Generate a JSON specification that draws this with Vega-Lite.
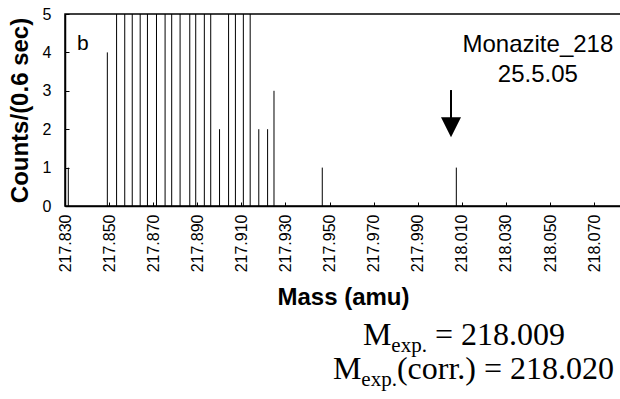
{
  "$schema": "https://vega.github.io/schema/vega-lite/v6.json",
  "autosize": {"type": "none"},
  "padding": {"left": 65, "top": 14, "right": 0, "bottom": 193},
  "width": 556,
  "height": 192,
  "background": "white",
  "config": {
    "font": "Liberation Sans",
    "view": {"stroke": "black", "strokeWidth": 1.5},
    "axis": {
      "labelOverlap": false,
      "labelFlush": false,
      "labelColor": "black",
      "labelFontSize": 16,
      "tickColor": "black",
      "tickWidth": 1,
      "domainColor": "black",
      "domainWidth": 1.5,
      "grid": false,
      "titleFontSize": 24,
      "titleFontWeight": "bold",
      "titleColor": "black"
    },
    "axisX": {"labelAngle": 270, "labelPadding": 12, "titlePadding": 14, "tickSize": -4},
    "axisY": {"labelPadding": 18, "titlePadding": 10, "tickSize": -4}
  },
  "datasets": {
    "peaks": [
      {"mass": 217.8315, "count": 1},
      {"mass": 217.8492, "count": 4},
      {"mass": 217.8534, "count": 5},
      {"mass": 217.8571, "count": 5},
      {"mass": 217.8605, "count": 5},
      {"mass": 217.8641, "count": 5},
      {"mass": 217.8674, "count": 5},
      {"mass": 217.8715, "count": 5},
      {"mass": 217.8754, "count": 5},
      {"mass": 217.8784, "count": 5},
      {"mass": 217.8822, "count": 5},
      {"mass": 217.8866, "count": 5},
      {"mass": 217.8893, "count": 5},
      {"mass": 217.8932, "count": 5},
      {"mass": 217.8961, "count": 5},
      {"mass": 217.9001, "count": 2},
      {"mass": 217.9042, "count": 5},
      {"mass": 217.9073, "count": 5},
      {"mass": 217.9109, "count": 5},
      {"mass": 217.914, "count": 5},
      {"mass": 217.9179, "count": 2},
      {"mass": 217.9219, "count": 2},
      {"mass": 217.9248, "count": 3},
      {"mass": 217.9467, "count": 1},
      {"mass": 218.0075, "count": 1}
    ],
    "arrow": [
      {"mass": 218.0051, "count": 3.02, "count2": 2.29}
    ],
    "head": [
      {"mass": 218.0051, "count": 2.05}
    ],
    "notes": [
      {"group": "panel", "mass": 217.8354, "count": 4.06, "label": "b"},
      {"group": "sample", "mass": 218.0445, "count": 4.0, "label": "Monazite_218"},
      {"group": "sample", "mass": 218.0445, "count": 3.24, "label": "25.5.05"},
      {"group": "main", "mass": 217.96515, "count": -3.62, "label": "M"},
      {"group": "sub", "mass": 217.97803, "count": -3.79, "label": "exp."},
      {"group": "main", "mass": 217.9978, "count": -3.62, "label": "= 218.009"},
      {"group": "main", "mass": 217.95154, "count": -4.51, "label": "M"},
      {"group": "sub", "mass": 217.96442, "count": -4.68, "label": "exp."},
      {"group": "main", "mass": 217.98057, "count": -4.51, "label": "(corr.) = 218.020"}
    ]
  },
  "layer": [
    {
      "data": {"name": "peaks"},
      "mark": {"type": "rule", "color": "black", "strokeWidth": 1},
      "encoding": {
        "x": {
          "field": "mass", "type": "quantitative",
          "scale": {"domain": [217.83, 218.0822], "nice": false, "zero": false},
          "axis": {
            "title": "Mass (amu)",
            "values": [217.83, 217.835, 217.84, 217.845, 217.85, 217.855, 217.86, 217.865, 217.87, 217.875, 217.88, 217.885, 217.89, 217.895, 217.9, 217.905, 217.91, 217.915, 217.92, 217.925, 217.93, 217.935, 217.94, 217.945, 217.95, 217.955, 217.96, 217.965, 217.97, 217.975, 217.98, 217.985, 217.99, 217.995, 218, 218.005, 218.01, 218.015, 218.02, 218.025, 218.03, 218.035, 218.04, 218.045, 218.05, 218.055, 218.06, 218.065, 218.07, 218.075, 218.08],
            "labelExpr": "round((datum.value - 217.83) * 200) % 4 == 0 ? format(datum.value, '.3f') : ''"
          }
        },
        "y": {
          "field": "count", "type": "quantitative",
          "scale": {"domain": [0, 5], "nice": false},
          "axis": {
            "title": "Counts/(0.6 sec)",
            "tickCount": 6,
            "labelOverlap": false,
            "labelBound": false,
            "labelSeparation": 0
          }
        },
        "y2": {"datum": 0}
      }
    },
    {
      "data": {"name": "arrow"},
      "mark": {"type": "rule", "color": "black", "strokeWidth": 2},
      "encoding": {
        "x": {"field": "mass", "type": "quantitative"},
        "y": {"field": "count", "type": "quantitative"},
        "y2": {"field": "count2"}
      }
    },
    {
      "data": {"name": "head"},
      "mark": {"type": "point", "shape": "M-1,-1L1,-1L0,1Z", "size": 400, "filled": true, "color": "black", "opacity": 1},
      "encoding": {
        "x": {"field": "mass", "type": "quantitative"},
        "y": {"field": "count", "type": "quantitative"}
      }
    },
    {
      "data": {"name": "notes"},
      "transform": [{"filter": "datum.group == 'panel'"}],
      "mark": {"type": "text", "font": "Liberation Sans", "fontSize": 21, "align": "left", "baseline": "alphabetic", "color": "black"},
      "encoding": {
        "x": {"field": "mass", "type": "quantitative"},
        "y": {"field": "count", "type": "quantitative"},
        "text": {"field": "label"}
      }
    },
    {
      "data": {"name": "notes"},
      "transform": [{"filter": "datum.group == 'sample'"}],
      "mark": {"type": "text", "font": "Liberation Sans", "fontSize": 24, "align": "center", "baseline": "alphabetic", "color": "black"},
      "encoding": {
        "x": {"field": "mass", "type": "quantitative"},
        "y": {"field": "count", "type": "quantitative"},
        "text": {"field": "label"}
      }
    },
    {
      "data": {"name": "notes"},
      "transform": [{"filter": "datum.group == 'main'"}],
      "mark": {"type": "text", "font": "Liberation Serif", "fontSize": 32, "align": "left", "baseline": "alphabetic", "color": "black"},
      "encoding": {
        "x": {"field": "mass", "type": "quantitative"},
        "y": {"field": "count", "type": "quantitative"},
        "text": {"field": "label"}
      }
    },
    {
      "data": {"name": "notes"},
      "transform": [{"filter": "datum.group == 'sub'"}],
      "mark": {"type": "text", "font": "Liberation Serif", "fontSize": 21, "align": "left", "baseline": "alphabetic", "color": "black"},
      "encoding": {
        "x": {"field": "mass", "type": "quantitative"},
        "y": {"field": "count", "type": "quantitative"},
        "text": {"field": "label"}
      }
    }
  ]
}
